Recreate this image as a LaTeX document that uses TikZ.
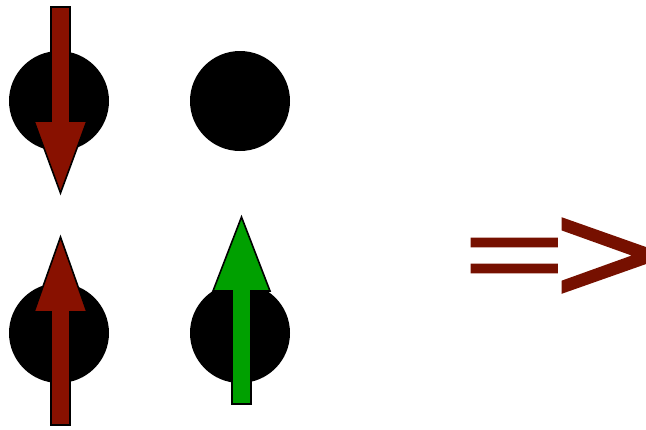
\documentclass[tikz,border=0pt]{standalone}
\usepackage{graphicx}
\usepackage{fontspec}
\newfontfamily\implfont{Liberation Sans}[FakeBold=1.5]
\newfontfamily\eqfont{Liberation Sans}[FakeBold=2.2]
\definecolor{spinred}{RGB}{136,17,0}
\definecolor{spingreen}{RGB}{0,160,0}
\definecolor{impl}{RGB}{118,16,0}
\tikzset{
  atom/.style={circle, fill=black, minimum size=100pt, inner sep=0pt},
  spinarrow/.style={draw=black, line width=1.6pt, line join=miter},
}
\begin{document}
\begin{tikzpicture}[x=1pt,y=-1pt]
\useasboundingbox (0,0) rectangle (646,429);
\node[atom] (a1) at (59,101) {};
\node[atom] (a2) at (240,101) {};
\node[atom] (a3) at (59,333) {};
\node[atom] (a4) at (240,333) {};
% down arrow on a1
\draw[spinarrow, fill=spinred] (51,7) -- (70,7) -- (70,121) -- (87,121) -- (60.5,193) -- (34,121) -- (51,121) -- cycle;
% up arrow on a3
\draw[spinarrow, fill=spinred] (51,425) -- (70,425) -- (70,312) -- (87,312) -- (60.5,237) -- (34,312) -- (51,312) -- cycle;
% green up arrow on a4
\draw[spinarrow, fill=spingreen] (232,404) -- (251,404) -- (251,291) -- (270,291) -- (241.5,217) -- (213,291) -- (232,291) -- cycle;
\node[inner sep=0pt, anchor=base west, xscale=1.1, yscale=0.925, text=impl, font=\implfont\fontsize{156}{156}\selectfont] (imp) at (464,303) {\raisebox{14.6pt}{\scalebox{1}[0.716]{\eqfont =}}\kern-9pt>};
\end{tikzpicture}
\end{document}
